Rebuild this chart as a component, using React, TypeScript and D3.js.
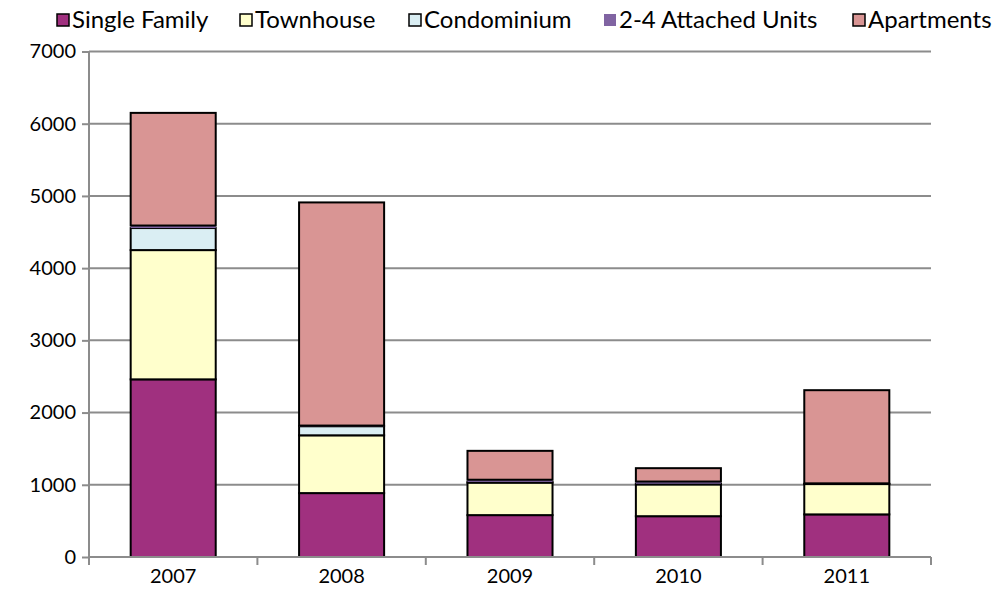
import { useRef, useEffect } from "react";
import * as d3 from "d3";

const years = ["2007", "2008", "2009", "2010", "2011"];
const seriesNames = ["Single Family", "Townhouse", "Condominium", "2-4 Attached Units", "Apartments"];
const singleFamily = [2460, 885, 580, 565, 590];
const townhouse = [1790, 800, 450, 440, 420];
const condominium = [305, 125, 10, 10, 5];
const attachedUnits = [35, 10, 30, 30, 5];
const apartments = [1560, 3090, 400, 185, 1290];
const yTicks = [0, 1000, 2000, 3000, 4000, 5000, 6000, 7000];

const colors = ["#A0307F", "#FFFFCC", "#DAEEF3", "#8064A2", "#D99594"];
const outlined = [true, true, true, false, true];

export default function App() {
  const ref = useRef<SVGSVGElement>(null);
  useEffect(() => {
    if (!ref.current) return;
    const svg = d3.select(ref.current);
    svg.selectAll("*").remove();
    const W = 1001, H = 604;
    const margin = { top: 51.5, right: 70, bottom: 47, left: 89 };
    const width = W - margin.left - margin.right;
    const height = H - margin.top - margin.bottom;
    const font = "Lato, 'Open Sans', sans-serif";

    const rows = years.map((y, i) => ({
      year: y,
      "Single Family": singleFamily[i],
      Townhouse: townhouse[i],
      Condominium: condominium[i],
      "2-4 Attached Units": attachedUnits[i],
      Apartments: apartments[i],
    }));
    const stacked = d3.stack<any>().keys(seriesNames)(rows);

    const x = d3.scaleBand().domain(years).range([0, width]).paddingInner(0.495).paddingOuter(0.2475);
    const y = d3.scaleLinear().domain([0, 7000]).range([height, 0]);

    const g = svg.append("g").attr("transform", `translate(${margin.left},${margin.top})`);

    // gridlines
    g.selectAll(".grid").data(yTicks.slice(1)).join("line")
      .attr("x1", 0).attr("x2", width).attr("y1", d => y(d)).attr("y2", d => y(d))
      .attr("stroke", "#8c8c8c").attr("stroke-width", 2);

    // bars
    stacked.forEach((s, si) => {
      g.append("g").selectAll("rect").data(s).join("rect")
        .attr("x", (d: any) => x(d.data.year)!)
        .attr("y", d => y(d[1]))
        .attr("width", x.bandwidth())
        .attr("height", d => Math.max(0, y(d[0]) - y(d[1])))
        .attr("fill", colors[si])
        .attr("stroke", outlined[si] ? "#000" : "none")
        .attr("stroke-width", 2);
    });

    // y axis
    const yAxis = g.append("g").call(d3.axisLeft(y).tickValues(yTicks).tickSize(7).tickPadding(6).tickFormat(d3.format("d")));
    yAxis.selectAll("text").attr("fill", "#000").attr("font-size", "20px").attr("font-family", font);
    yAxis.selectAll("line").attr("stroke", "#8c8c8c").attr("stroke-width", 2);
    yAxis.select(".domain").attr("stroke", "#8c8c8c").attr("stroke-width", 2).attr("d", `M0,${height}V0`);

    // x axis
    const xAxis = g.append("g").attr("transform", `translate(0,${height})`)
      .call(d3.axisBottom(x).tickSize(0).tickPadding(12));
    xAxis.selectAll("text").attr("fill", "#000").attr("font-size", "20px").attr("font-family", font);
    xAxis.select(".domain").attr("stroke", "#8c8c8c").attr("stroke-width", 2).attr("d", `M0,0H${width}`);
    const step = x.step();
    xAxis.selectAll(".cat-tick").data(d3.range(years.length + 1)).join("line")
      .attr("x1", i => i * step).attr("x2", i => i * step).attr("y1", 0).attr("y2", 8)
      .attr("stroke", "#8c8c8c").attr("stroke-width", 2);

    // legend
    const legendX = [57, 240, 409, 604, 853];
    const lg = svg.append("g").attr("transform", "translate(0,20)");
    seriesNames.forEach((name, i) => {
      lg.append("rect").attr("x", legendX[i]).attr("y", -6).attr("width", 12).attr("height", 12)
        .attr("fill", colors[i]).attr("stroke", outlined[i] ? "#000" : "none").attr("stroke-width", 1.5);
      lg.append("text").attr("x", legendX[i] + 15).attr("y", 0).attr("dy", "0.35em")
        .attr("font-size", "24px").attr("font-family", font).attr("fill", "#000").text(name);
    });
  }, []);

  return (
    <div style={{ position: "absolute", left: 0, top: 0 }}>
      <svg ref={ref} width={1001} height={604} style={{ display: "block", background: "#fff" }} />
    </div>
  );
}
